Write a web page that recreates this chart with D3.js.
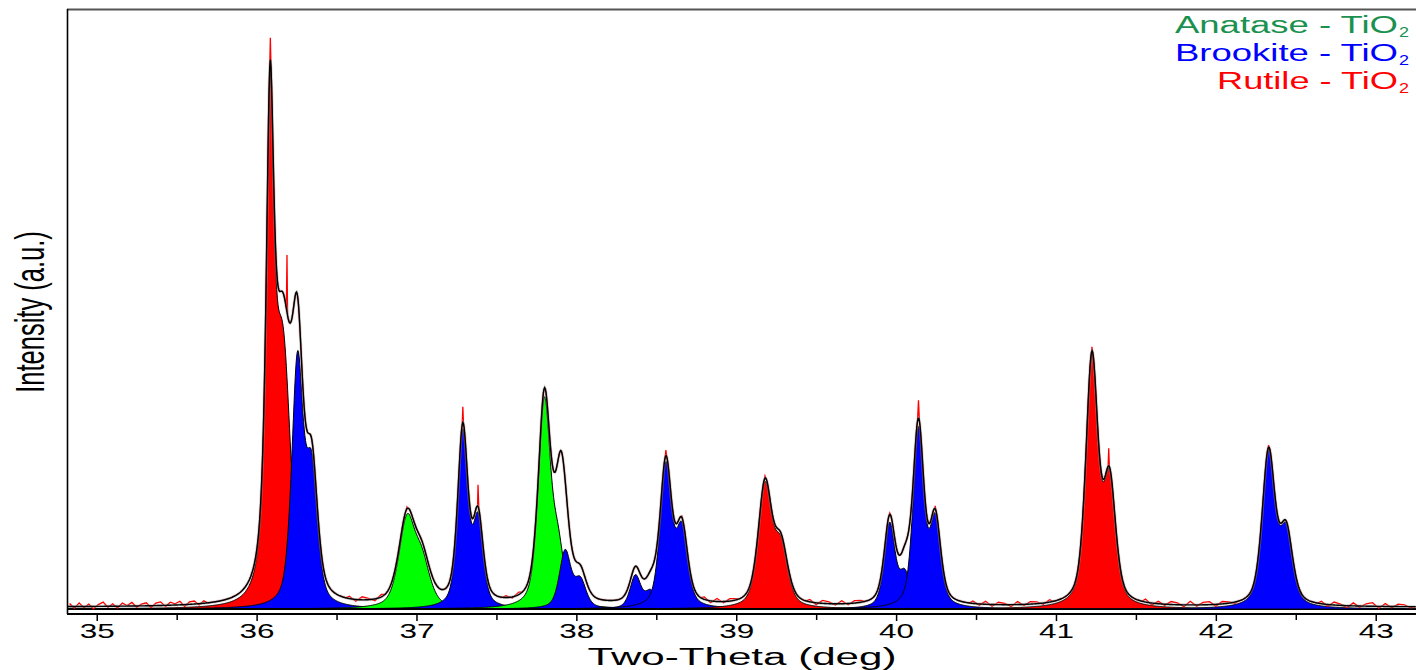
<!DOCTYPE html>
<html>
<head>
<meta charset="utf-8">
<script src="https://cdn.jsdelivr.net/npm/d3@7"></script>
<style>
  body { margin: 0; background: #fff; }
  svg { display: block; }
  text { font-family: "Liberation Sans", Arial, sans-serif; }
</style>
</head>
<body>
<div id="chart"></div>
<script>
// reflections (K-alpha1 / K-alpha2 pairs, intensity in arbitrary units)
var peakPhase = ["Rutile", "Brookite", "Anatase", "Brookite", "Anatase", "Brookite", "Brookite",
                 "Brookite", "Rutile", "Brookite", "Brookite", "Rutile", "Brookite"];
var peakPos1  = [36.084, 36.256, 36.940, 37.290, 37.800, 37.930, 38.370, 38.560, 39.180, 39.960, 40.140, 41.225, 42.330];
var peakH1    = [800, 405, 142, 290, 340, 95, 55, 235, 200, 140, 295, 410, 255];
var peakFwhm1 = [0.06, 0.085, 0.12, 0.075, 0.09, 0.085, 0.08, 0.085, 0.10, 0.08, 0.08, 0.09, 0.095];
var peakEta1  = [0.85, 0.5, 0.5, 0.5, 0.5, 0.5, 0.5, 0.5, 0.5, 0.5, 0.5, 0.5, 0.5];
var peakPos2  = [36.165, 36.345, 37.035, 37.385, 37.885, 38.025, 38.465, 38.660, 39.280, 40.055, 40.245, 41.335, 42.440];
var peakH2    = [390, 215, 70, 140, 90, 45, 28, 125, 95, 55, 140, 200, 120];
var peakFwhm2 = [0.11, 0.085, 0.12, 0.075, 0.09, 0.085, 0.08, 0.085, 0.10, 0.08, 0.08, 0.09, 0.095];
var peakEta2  = [0.2, 0.5, 0.5, 0.5, 0.5, 0.5, 0.5, 0.5, 0.5, 0.5, 0.5, 0.5, 0.5];

// intensity in the calculated pattern that no phase accounts for
var otherPos = [37.905];
var otherH = [75];
var otherFwhm = [0.06];
var background = 3;

// observed pattern: peak tops and baseline scatter around the fit
var tipX = [36.086, 36.190, 36.940, 37.290, 37.385, 37.800, 38.560, 38.660, 39.180, 39.960, 40.140, 40.245, 41.225, 41.330, 42.330];
var tipY = [952, 590, 170, 337, 207, 367, 265, 155, 222, 160, 348, 172, 437, 268, 273];
var noiseX = [34.83, 34.86, 34.89, 34.92, 34.95, 34.98, 35.01, 35.04, 35.07, 35.10, 35.13, 35.16, 35.19, 35.22,
              35.25, 35.28, 35.31, 35.34, 35.37, 35.40, 35.43, 35.46, 35.49, 35.52, 35.55, 35.58, 35.61, 35.64, 35.67,
              36.58, 36.62, 36.66, 36.70, 36.74, 36.78,
              37.56, 37.60, 37.64,
              38.80, 38.84, 38.88, 38.92, 38.96, 39.00,
              39.46, 39.50, 39.54, 39.58, 39.62, 39.66, 39.70, 39.74, 39.78,
              40.48, 40.52, 40.56, 40.60, 40.64, 40.68, 40.72, 40.76, 40.80, 40.84, 40.88, 40.92, 40.96,
              41.56, 41.60, 41.64, 41.68, 41.72, 41.76, 41.80, 41.84, 41.88, 41.92, 41.96, 42.00, 42.04, 42.08, 42.12,
              42.66, 42.70, 42.74, 42.78, 42.82, 42.86, 42.90, 42.94, 42.98, 43.02, 43.06, 43.10, 43.14, 43.18, 43.22];
var noiseY = [5, -3, 6, -2, 4, -4, 3, 7, -2, 4, -3, 5, 1, 6,
              -2, 3, 5, -3, 4, 6, -2, 5, 2, 6, -3, 4, 5, -2, 4,
              4, -3, 5, 2, -3, 4,
              3, -2, 4,
              4, -3, 5, -2, 4, 2,
              4, -3, 5, 3, -2, 5, -2, 4, 3,
              4, -2, 5, -3, 4, 2, -3, 5, -2, 4, 3, -2, 4,
              5, -3, 4, -2, 5, 3, -3, 6, -2, 4, 5, -3, 4, 2, -2,
              4, -3, 5, 2, -3, 5, -2, 4, 6, -3, 5, -2, 4, 3, -2];

var xTicks = [35, 36, 37, 38, 39, 40, 41, 42, 43];
var xMinorTicks = [35.5, 36.5, 37.5, 38.5, 39.5, 40.5, 41.5, 42.5];

var phases = ["Anatase", "Brookite", "Rutile"];
var phaseFill = {"Anatase": "#00ff00", "Brookite": "#0000ff", "Rutile": "#ff0000"};
var phaseText = {"Anatase": "#1b9150", "Brookite": "#0000ff", "Rutile": "#ff0000"};

(function() {
  var width = 1416, height = 670;
  var left = 67, top = 9, axisY = 614;

  var x = d3.scaleLinear().domain([34.814, 43.252]).range([left, width]);
  var y = d3.scaleLinear().domain([0, 1000]).range([609, top]);

  // pseudo-Voigt line shape
  var profile = function(t, pos, h, fwhm, eta) {
    var u = (t - pos) / fwhm;
    return h * (eta / (1 + 4 * u * u) + (1 - eta) * Math.exp(-4 * Math.LN2 * u * u));
  };

  var reflections = peakPos1.map(function(p, i) {
    return {phase: peakPhase[i], i: i};
  });

  var reflectionAt = function(i, t) {
    return profile(t, peakPos1[i], peakH1[i], peakFwhm1[i], peakEta1[i]) +
           profile(t, peakPos2[i], peakH2[i], peakFwhm2[i], peakEta2[i]);
  };

  var calcAt = function(t) {
    var s = background;
    for (var i = 0; i < peakPos1.length; i++) s += reflectionAt(i, t);
    for (var j = 0; j < otherPos.length; j++) s += profile(t, otherPos[j], otherH[j], otherFwhm[j], 0.5);
    return s;
  };

  var grid = d3.range(34.814, 43.2521, 0.004);

  var svg = d3.select("#chart").append("svg")
      .attr("width", width)
      .attr("height", height);

  svg.append("rect").attr("width", width).attr("height", height).attr("fill", "#fff");

  svg.append("clipPath").attr("id", "plotClip")
    .append("rect")
      .attr("x", left).attr("y", top)
      .attr("width", width - left).attr("height", axisY - top);

  var plot = svg.append("g").attr("clip-path", "url(#plotClip)");

  var area = d3.area()
      .x(function(d) { return x(d[0]); })
      .y0(y(0))
      .y1(function(d) { return y(d[1]); });

  // one filled area per reflection, drawn in order of angle
  plot.selectAll(".reflection")
    .data(reflections)
    .enter().append("path")
      .attr("class", "reflection")
      .attr("d", function(r) {
        return area(grid.map(function(t) { return [t, reflectionAt(r.i, t)]; }));
      })
      .attr("fill", function(r) { return phaseFill[r.phase]; })
      .attr("stroke", "#000")
      .attr("stroke-width", 1)
      .attr("stroke-linejoin", "round");

  var line = d3.line()
      .x(function(d) { return x(d[0]); })
      .y(function(d) { return y(d[1]); });

  // observed pattern
  var obs = grid.filter(function(t) {
    for (var k = 0; k < noiseX.length; k++) if (Math.abs(t - noiseX[k]) < 0.02) return false;
    for (var m = 0; m < tipX.length; m++) if (Math.abs(t - tipX[m]) < 0.003) return false;
    return true;
  }).map(function(t) { return [t, calcAt(t)]; });
  noiseX.forEach(function(t, k) { obs.push([t, calcAt(t) + noiseY[k]]); });
  tipX.forEach(function(t, k) { obs.push([t, tipY[k]]); });
  obs.sort(function(a, b) { return a[0] - b[0]; });

  plot.append("path")
      .attr("d", line(obs))
      .attr("fill", "none")
      .attr("stroke", "#ff0000")
      .attr("stroke-width", 1.3);

  var calc = grid.map(function(t) { return [t, calcAt(t)]; });

  plot.append("path")
      .attr("d", line(calc))
      .attr("fill", "none")
      .attr("stroke", "#9a9a9a")
      .attr("stroke-width", 3)
      .attr("stroke-opacity", 0.45);

  plot.append("path")
      .attr("d", line(calc))
      .attr("fill", "none")
      .attr("stroke", "#000")
      .attr("stroke-width", 1.4);

  // frame
  svg.append("line")
      .attr("x1", left).attr("x2", width)
      .attr("y1", top + 0.5).attr("y2", top + 0.5)
      .attr("stroke", "#555").attr("stroke-width", 2);
  svg.append("line")
      .attr("x1", left + 0.5).attr("x2", left + 0.5)
      .attr("y1", top).attr("y2", axisY)
      .attr("stroke", "#000").attr("stroke-width", 1.6);

  var xAxis = svg.append("g")
      .attr("transform", "translate(0," + axisY + ")")
      .call(d3.axisBottom(x).tickValues(xTicks).tickSize(7).tickPadding(2)
        .tickFormat(d3.format("d")));
  xAxis.select(".domain").remove();
  xAxis.selectAll(".tick line").attr("stroke", "#000").attr("stroke-width", 1.5);
  xAxis.selectAll(".tick text")
      .attr("fill", "#000")
      .style("font-size", "21px")
      .attr("textLength", 35)
      .attr("lengthAdjust", "spacingAndGlyphs");

  var xMinor = svg.append("g")
      .attr("transform", "translate(0," + axisY + ")")
      .call(d3.axisBottom(x).tickValues(xMinorTicks).tickSize(6).tickFormat(""));
  xMinor.select(".domain").remove();
  xMinor.selectAll(".tick line").attr("stroke", "#000").attr("stroke-width", 1.5);

  svg.append("line")
      .attr("x1", left).attr("x2", width)
      .attr("y1", axisY).attr("y2", axisY)
      .attr("stroke", "#000").attr("stroke-width", 2);

  // axis titles
  svg.append("text")
      .attr("x", 742)
      .attr("y", 665)
      .attr("text-anchor", "middle")
      .style("font-size", "23px")
      .attr("textLength", 309)
      .attr("lengthAdjust", "spacingAndGlyphs")
      .text("Two-Theta (deg)");

  svg.append("text")
      .attr("transform", "translate(44,312) scale(1.57,1) rotate(-90)")
      .attr("text-anchor", "middle")
      .style("font-size", "25.5px")
      .text("Intensity (a.u.)");

  // legend
  var legendWidth = {"Anatase": 223, "Brookite": 223, "Rutile": 181};
  var legend = svg.selectAll(".legend")
    .data(phases)
    .enter().append("g")
      .attr("class", "legend")
      .attr("transform", function(d, i) { return "translate(1398," + (33 + i * 28) + ")"; });
  legend.append("text")
      .attr("text-anchor", "end")
      .style("font-size", "23px")
      .attr("fill", function(d) { return phaseText[d]; })
      .attr("textLength", function(d) { return legendWidth[d]; })
      .attr("lengthAdjust", "spacingAndGlyphs")
      .text(function(d) { return d + " - TiO"; });
  legend.append("text")
      .attr("x", 1)
      .attr("y", 4)
      .style("font-size", "15px")
      .attr("fill", function(d) { return phaseText[d]; })
      .attr("textLength", 10)
      .attr("lengthAdjust", "spacingAndGlyphs")
      .text("2");
})();
</script>
</body>
</html>
